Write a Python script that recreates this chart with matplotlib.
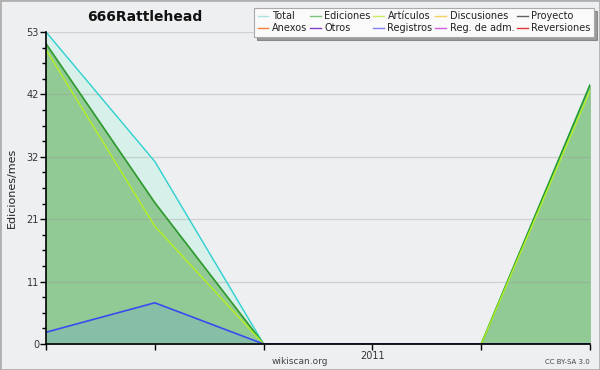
import numpy as np
import matplotlib.pyplot as plt
from matplotlib.lines import Line2D
from matplotlib.ticker import FixedLocator

# Datos (ediciones por mes)
meses = [0, 1, 2, 3, 4, 5]
total = [53, 31, 0, 0, 0, 44]
ediciones = [51, 24, 0, 0, 0, 44]
articulos = [50, 20, 0, 0, 0, 43]
registros = [2, 7, 0, 0, 0, 0]

etiquetas_x = ["", "", "", "2011", "", ""]
ymax = 53

leyenda = [
    ("Total", "#a8e4e0"), ("Ediciones", "#7cc47c"), ("Artículos", "#c8ec60"),
    ("Discusiones", "#f4d060"), ("Proyecto", "#606060"),
    ("Anexos", "#f08040"), ("Otros", "#8040c8"), ("Registros", "#8080f0"),
    ("Reg. de adm.", "#d060e0"), ("Reversiones", "#e03838"),
]

fondo = "#eeeff1"
fig = plt.figure(figsize=(6, 3.7), dpi=100, facecolor=fondo)
ax = fig.add_axes([46 / 600, 26 / 370, 544 / 600, 312 / 370])
ax.set_facecolor(fondo)

# Relleno y líneas
ax.fill_between(meses, total, color="#d8f0ea", zorder=1)
ax.fill_between(meses, ediciones, color="#92ca96", zorder=2)
ax.fill_between(meses, registros, color="#86bea6", zorder=3)
ax.plot(meses, total, color="#30d0d0", lw=1, zorder=5)
ax.plot(meses, ediciones, color="#2f9a2f", lw=1.2, zorder=6)
ax.plot(meses, articulos, color="#b4f020", lw=1, zorder=7)
ax.plot(meses, registros, color="#3a4cf0", lw=1.2, zorder=8)

ax.set_xlim(0, 5)
ax.set_ylim(0, ymax)

mayores = np.linspace(0, ymax, 6)
ax.set_yticks(mayores)
ax.set_yticklabels([f"{v:.0f}" for v in mayores])
ax.yaxis.set_minor_locator(FixedLocator(np.linspace(0, ymax, 21)))
ax.set_xticks(meses)
ax.set_xticklabels(etiquetas_x)

ax.tick_params(axis="both", which="major", labelsize=7, length=4, width=1,
               color="black", labelcolor="#333333", pad=1)
ax.tick_params(axis="y", which="minor", length=3, width=1)
ax.grid(axis="y", color="#999999", alpha=0.35, lw=1, zorder=4)
ax.set_axisbelow(False)
for lado in ["top", "right"]:
    ax.spines[lado].set_visible(False)
for lado in ["left", "bottom"]:
    ax.spines[lado].set_linewidth(1.2)
    ax.spines[lado].set_zorder(10)

fig.text(145 / 600, 1 - 17 / 370, "666Rattlehead", fontsize=10, fontweight="bold",
         ha="center", va="center", color="#111111")
fig.text(12 / 600, 1 - 188 / 370, "Ediciones/mes", fontsize=8, rotation=90,
         ha="center", va="center", color="#222222")
fig.text(300 / 600, 1 - 361 / 370, "wikiscan.org", fontsize=6.5, ha="center",
         va="center", color="#444444")
fig.text(590 / 600, 1 - 362 / 370, "CC BY-SA 3.0", fontsize=5, ha="right",
         va="center", color="#444444")

# Leyenda
manejadores = [Line2D([], [], color=c, lw=1) for _, c in leyenda]
orden = [0, 5, 1, 6, 2, 7, 3, 8, 4, 9]
leg = fig.legend([manejadores[i] for i in orden], [leyenda[i][0] for i in orden],
                 ncol=5, loc="upper right", bbox_to_anchor=(594 / 600, 1 - 8 / 370),
                 fontsize=7, frameon=True, fancybox=False, shadow=True,
                 handlelength=1.1, handletextpad=0.35, columnspacing=0.3,
                 labelspacing=0.2, borderpad=0.35, borderaxespad=0)
leg.get_frame().set_facecolor("#fafafa")
leg.get_frame().set_edgecolor("#aaaaaa")
leg.get_frame().set_linewidth(0.8)
for t in leg.get_texts():
    t.set_color("#222222")

# Borde de la figura
fig.patches.append(plt.Rectangle((0, 0), 1, 1, transform=fig.transFigure,
                                 fill=False, edgecolor="#b0b0b0", lw=2))

fig.savefig("out.png", dpi=100, facecolor=fondo)
